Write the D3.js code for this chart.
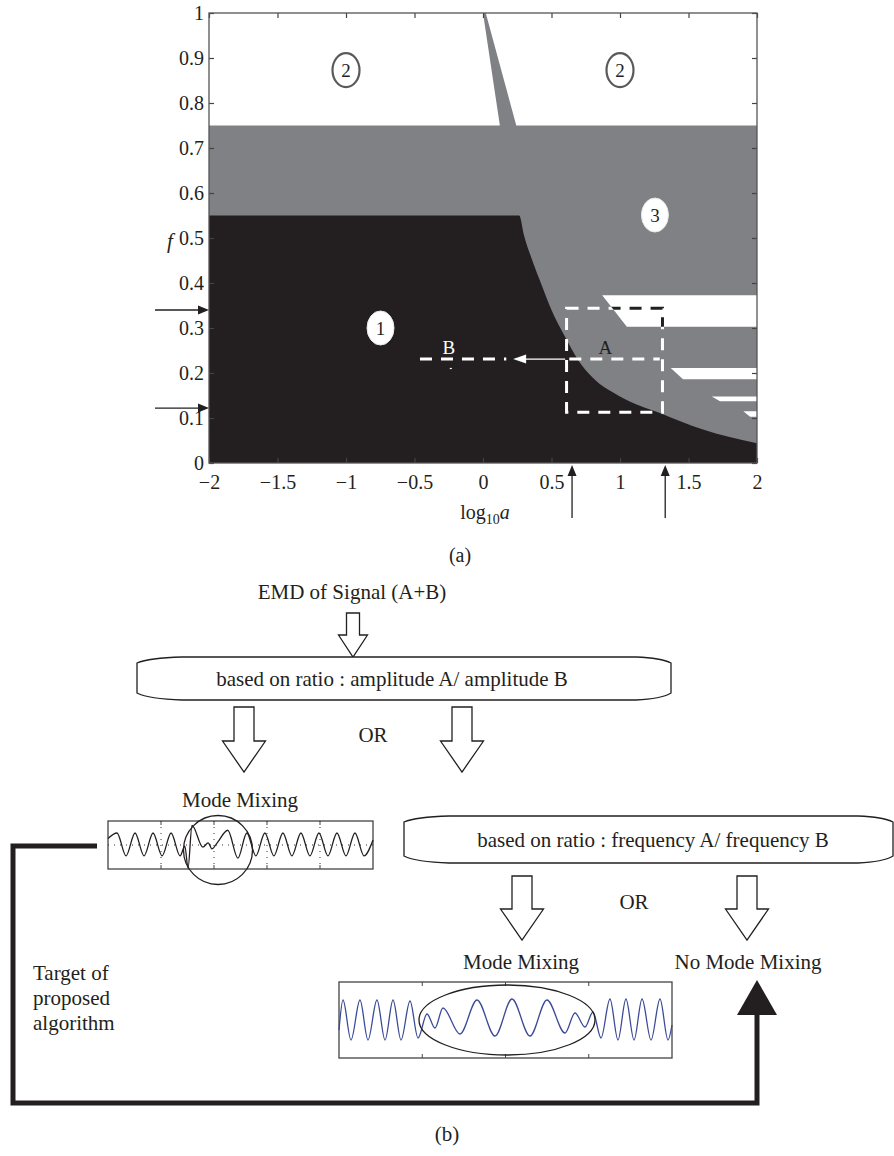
<!DOCTYPE html>
<html><head><meta charset="utf-8">
<script src="https://cdn.jsdelivr.net/npm/d3@7"></script>
<style>
body{margin:0;background:#fff}
text{font-family:"Liberation Serif","Times New Roman",serif;fill:#231f20}
</style>
</head><body>
<svg id="c" width="894" height="1156"></svg>
<script>
// ---------- data (panel a) ----------
const xTicks = [-2,-1.5,-1,-0.5,0,0.5,1,1.5,2];
const yTicks = [0,0.1,0.2,0.3,0.4,0.5,0.6,0.7,0.8,0.9,1];
// region 1 (black) upper boundary: [log10a, f]
const region1Boundary = [[-2,0.55],[0.264,0.55],[0.30,0.505],[0.36,0.45],[0.43,0.394],[0.50,0.34],[0.60,0.28],[0.70,0.226],[0.80,0.19],[1.0,0.148],[1.3,0.11],[1.6,0.075],[2.0,0.044]];
// region 2 (white) upper part, split by a grey wedge
const region2Left = [[-2,1],[0.0,1],[0.123,0.75],[-2,0.75]];
const region2Right = [[0.02,1],[2,1],[2,0.75],[0.243,0.75]];
// white stripes on the right: [fTop, fBottom, xTopLeft, xBottomLeft]
const stripes = [[0.373,0.303,0.87,1.05],[0.211,0.186,1.37,1.46],[0.148,0.137,1.67,1.73],[0.115,0.103,1.90,1.95]];
const regionLabels = [{t:"2",x:-1.0,f:0.873,ring:true},{t:"2",x:1.0,f:0.873,ring:true},{t:"3",x:1.255,f:0.551,ring:false},{t:"1",x:-0.748,f:0.30,ring:false}];
const boxA = {x0:0.61,x1:1.31,f0:0.113,f1:0.344};
const lineF = 0.231;
const lineA = [0.63,1.29];
const lineB = [-0.46,0.17];
const arrowAB = [0.60,0.22];
const leftArrowsF = [0.34,0.122];
const bottomArrowsX = [0.65,1.33];

// ---------- data (panel b) waveforms: [sample, amplitude] ----------
const waveMix1 = [[0,0.6],[17,1.1],[34,-1.0],[51,1.1],[68,-1.0],[85,1.1],[102,-1.0],[119,1.1],[136,-1.0],[145,-0.1],[151,-2.1],[158.5,1.8],[179,-0.2],[189,0.2],[196,-0.35],[206,0.2],[226,1.35],[245,-1.2],[262,1.1],[279,-1.0],[296,1.1],[313,-1.0],[330,1.1],[347,-1.0],[364,1.1],[381,-1.0],[398,1.1],[415,-1.0],[432,1.1],[449,-1.0],[466,1.1],[483,-1.0],[500,0.45]];
const waveMix2 = [[0,-0.5],[4.8,1],[14.4,-1],[25.2,1],[34.8,-1],[45.6,1],[55.3,-1],[64.9,1],[74.5,-1],[85.3,0.95],[94.9,-0.9],[105.7,0.3],[115.3,-0.4],[124.9,0.6],[145.3,-0.7],[165.8,1.0],[187.4,-0.8],[207.8,1.05],[229.4,-0.8],[249.8,1.0],[271.5,-0.65],[283.5,0.35],[295.5,-0.35],[305.1,0.4],[314.7,-0.9],[325.5,1.05],[335.1,-1],[344.7,1.05],[354.4,-1],[364.0,1.05],[374.8,-1],[385.6,1.05],[395.2,-1],[400,-0.25]];
const wave1Grid = [100,200,300,400];
const wave2Grid = [100,200,300];

const svg = d3.select("#c");
const ink = "#231f20", grey = "#808184";

// ================= panel (a) =================
const L=209,R=757,T=13,B=463;
const x = d3.scaleLinear().domain([-2,2]).range([L,R]);
const y = d3.scaleLinear().domain([0,1]).range([B,T]);
const defs = svg.append("defs");
defs.append("clipPath").attr("id","plot").append("rect").attr("x",L).attr("y",T).attr("width",R-L).attr("height",B-T);
const stripePoly = s => [[s[2],s[0]],[2,s[0]],[2,s[1]],[s[3],s[1]]];
defs.append("clipPath").attr("id","stripe0").append("polygon")
  .attr("points",stripePoly(stripes[0]).map(p=>[x(p[0]),y(p[1])].join(",")).join(" "));

const pa = svg.append("g").attr("clip-path","url(#plot)");
pa.append("rect").attr("x",L).attr("y",T).attr("width",R-L).attr("height",B-T).attr("fill",grey);
const poly = pts => pts.map(p=>[x(p[0]),y(p[1])].join(",")).join(" ");
[region2Left,region2Right].forEach(r=>pa.append("polygon").attr("points",poly(r)).attr("fill","#fff"));
pa.append("path").datum(region1Boundary)
  .attr("d",d3.area().x(d=>x(d[0])).y0(B).y1(d=>y(d[1])).curve(d3.curveMonotoneX))
  .attr("fill",ink);
stripes.forEach(s=>pa.append("polygon").attr("points",poly(stripePoly(s))).attr("fill","#fff"));

// dashed rectangle and lines
const rectPath = `M${x(boxA.x0)},${y(boxA.f1)}H${x(boxA.x1)}V${y(boxA.f0)}H${x(boxA.x0)}Z`;
pa.append("path").attr("d",rectPath).attr("fill","none").attr("stroke","#fff").attr("stroke-width",3).attr("stroke-dasharray","12,9");
pa.append("path").attr("d",rectPath).attr("fill","none").attr("stroke",ink).attr("stroke-width",3).attr("stroke-dasharray","12,9").attr("clip-path","url(#stripe0)");
pa.append("line").attr("x1",x(lineA[0])).attr("x2",x(lineA[1])).attr("y1",y(lineF)).attr("y2",y(lineF))
  .attr("stroke","#fff").attr("stroke-width",3).attr("stroke-dasharray","12,9");
pa.append("line").attr("x1",x(lineB[0])).attr("x2",x(lineB[1])).attr("y1",y(lineF)).attr("y2",y(lineF))
  .attr("stroke","#fff").attr("stroke-width",3).attr("stroke-dasharray","12,9");
pa.append("line").attr("x1",x(arrowAB[0])).attr("x2",x(arrowAB[1])+10).attr("y1",y(lineF)).attr("y2",y(lineF))
  .attr("stroke","#fff").attr("stroke-width",1.3);
pa.append("polygon").attr("points",`${x(arrowAB[1])},${y(lineF)} ${x(arrowAB[1])+13},${y(lineF)-4.5} ${x(arrowAB[1])+13},${y(lineF)+4.5}`).attr("fill","#fff");
pa.append("rect").attr("x",x(-0.235)-1).attr("y",y(0.21)-0.6).attr("width",2).attr("height",1.2).attr("fill","#fff");

// text labels A, B
pa.append("text").attr("x",x(0.894)).attr("y",y(0.258)).attr("dy","0.35em").attr("text-anchor","middle").attr("font-size",19).text("A");
pa.append("text").attr("x",x(-0.25)).attr("y",y(0.258)).attr("dy","0.35em").attr("text-anchor","middle").attr("font-size",19).style("fill","#fff").text("B");

// region labels
regionLabels.forEach(d=>{
  pa.append("ellipse").attr("cx",x(d.x)).attr("cy",y(d.f)).attr("rx",13.5).attr("ry",17)
    .attr("fill","#fff").attr("stroke",d.ring?"#5a5a5c":"#e8e8e8").attr("stroke-width",d.ring?2.2:1);
  pa.append("text").attr("x",x(d.x)).attr("y",y(d.f)).attr("dy","0.35em").attr("text-anchor","middle").attr("font-size",19).text(d.t);
});

// axes
const fmt = v => (v<0?"\u2212":"")+Math.abs(v);
const axB = svg.append("g").attr("transform",`translate(0,${B})`).call(d3.axisBottom(x).tickValues(xTicks).tickSize(-5).tickPadding(12).tickFormat(fmt));
const axT = svg.append("g").attr("transform",`translate(0,${T})`).call(d3.axisTop(x).tickValues(xTicks).tickSize(-5).tickFormat(""));
const axL = svg.append("g").attr("transform",`translate(${L},0)`).call(d3.axisLeft(y).tickValues(yTicks).tickSize(-5).tickPadding(5).tickFormat(d3.format("~g")));
const axR = svg.append("g").attr("transform",`translate(${R},0)`).call(d3.axisRight(y).tickValues(yTicks).tickSize(-5).tickFormat(""));
[axB,axT,axL,axR].forEach(a=>{
  a.select(".domain").remove();
  a.selectAll(".tick line").attr("stroke","#444").attr("stroke-width",1.2);
  a.selectAll("text").attr("font-family","Liberation Serif").attr("font-size",20).attr("fill",ink);
});
svg.append("rect").attr("x",L).attr("y",T).attr("width",R-L).attr("height",B-T).attr("fill","none").attr("stroke","#555").attr("stroke-width",1.3);

// axis titles
const xl = svg.append("text").attr("x",x(0)+2).attr("y",519).attr("text-anchor","middle").attr("font-size",20);
xl.append("tspan").text("log");
xl.append("tspan").attr("font-size",14).attr("dy",5).text("10");
xl.append("tspan").attr("font-style","italic").attr("dy",-5).text("a");
svg.append("text").attr("x",170).attr("y",241).attr("dy","0.35em").attr("text-anchor","middle").attr("font-size",21).attr("font-style","italic").text("f");
svg.append("text").attr("x",460).attr("y",555).attr("dy","0.35em").attr("text-anchor","middle").attr("font-size",20).text("(a)");

// side arrows
leftArrowsF.forEach(f=>{
  svg.append("line").attr("x1",155).attr("x2",L-8).attr("y1",y(f)).attr("y2",y(f)).attr("stroke",ink).attr("stroke-width",1.3);
  svg.append("polygon").attr("points",`${L},${y(f)} ${L-11},${y(f)-4.5} ${L-11},${y(f)+4.5}`).attr("fill",ink);
});
bottomArrowsX.forEach(v=>{
  svg.append("line").attr("x1",x(v)).attr("x2",x(v)).attr("y1",518).attr("y2",B+10).attr("stroke",ink).attr("stroke-width",1.3);
  svg.append("polygon").attr("points",`${x(v)},${B+2} ${x(v)-4.5},${B+13} ${x(v)+4.5},${B+13}`).attr("fill",ink);
});

// ================= panel (b) =================
const fs = 21;
function label(t,cx,cy,anchor){
  return svg.append("text").attr("x",cx).attr("y",cy).attr("dy","0.35em").attr("text-anchor",anchor||"middle").attr("font-size",fs).text(t);
}
function hollowArrow(cx,top,headY,tip,sw,hw){
  const pts=[[cx-sw,top],[cx+sw,top],[cx+sw,headY],[cx+hw,headY],[cx,tip],[cx-hw,headY],[cx-sw,headY]];
  svg.append("polygon").attr("points",pts.map(p=>p.join(",")).join(" ")).attr("fill","#fff").attr("stroke",ink).attr("stroke-width",1.3).attr("stroke-linejoin","miter");
}
function boxShape(x0,y0,x1,y1){
  const p=d3.path();
  p.moveTo(x0,y0+6); p.quadraticCurveTo(x0+12,y0+1,x0+45,y0); p.lineTo(x1-35,y0);
  p.quadraticCurveTo(x1-10,y0+1,x1,y0+6); p.lineTo(x1,y1-7);
  p.quadraticCurveTo(x1-10,y1-1,x1-35,y1); p.lineTo(x0+45,y1);
  p.quadraticCurveTo(x0+12,y1-1,x0,y1-7); p.closePath();
  svg.append("path").attr("d",p.toString()).attr("fill","#fff").attr("stroke",ink).attr("stroke-width",1.3);
}

label("EMD of Signal (A+B)",352,592);
hollowArrow(353,613,635,657,6.5,14.5);
boxShape(137,657,671,700);
label("based on ratio : amplitude A/ amplitude B",392,679);
hollowArrow(244,707,741,772,10,21.5);
hollowArrow(462,707,741,772,10,21.5);
label("OR",373,735);
label("Mode Mixing",240,800);

boxShape(404,816,893,863);
label("based on ratio : frequency A/ frequency B",653,840);
hollowArrow(522,876,909,940,10,21.5);
hollowArrow(747,876,909,940,10,21.5);
label("OR",634,902);
label("Mode Mixing",521,962);
label("No Mode Mixing",748,962);
label("Target of",33,973,"start");
label("proposed",33,998,"start");
label("algorithm",33,1023,"start");
label("(b)",447,1134);

// feedback line
svg.append("path").attr("d","M97,846H13V1103H757V1012").attr("fill","none").attr("stroke",ink).attr("stroke-width",5).attr("stroke-linejoin","miter");
svg.append("polygon").attr("points","757,980 737,1015 777,1015").attr("fill",ink);

// waveform panels
function wavePanel(x0,y0,x1,y1,xmax,ymax,grid,data,color,dotted){
  const sx=d3.scaleLinear().domain([0,xmax]).range([x0,x1]);
  const sy=d3.scaleLinear().domain([-ymax,ymax]).range([y1,y0]);
  const g=svg.append("g");
  g.append("rect").attr("x",x0).attr("y",y0).attr("width",x1-x0).attr("height",y1-y0).attr("fill","#fff").attr("stroke","#444").attr("stroke-width",1.3);
  if(dotted){
    grid.forEach(v=>g.append("line").attr("x1",sx(v)).attr("x2",sx(v)).attr("y1",y0).attr("y2",y1).attr("stroke","#333").attr("stroke-width",1).attr("stroke-dasharray","1,5"));
    g.append("line").attr("x1",x0).attr("x2",x1).attr("y1",sy(0)).attr("y2",sy(0)).attr("stroke","#333").attr("stroke-width",1).attr("stroke-dasharray","1,5");
  }
  grid.forEach(v=>{
    g.append("line").attr("x1",sx(v)).attr("x2",sx(v)).attr("y1",y0).attr("y2",y0+4).attr("stroke","#444");
    g.append("line").attr("x1",sx(v)).attr("x2",sx(v)).attr("y1",y1).attr("y2",y1-4).attr("stroke","#444");
  });
  g.append("path").datum(data).attr("d",d3.line().x(d=>sx(d[0])).y(d=>sy(d[1])).curve(d3.curveMonotoneX))
    .attr("fill","none").attr("stroke",color).attr("stroke-width",1.3);
}
wavePanel(108,821,373,869,500,2.2,wave1Grid,waveMix1,ink,true);
svg.append("circle").attr("cx",218).attr("cy",850).attr("r",34.5).attr("fill","none").attr("stroke",ink).attr("stroke-width",1.3);
wavePanel(339,982,672,1058,400,1.9,wave2Grid,waveMix2,"#3b4a96",false);
svg.append("ellipse").attr("cx",507).attr("cy",1020).attr("rx",88).attr("ry",35).attr("fill","none").attr("stroke",ink).attr("stroke-width",1.3);
</script>
</body></html>
